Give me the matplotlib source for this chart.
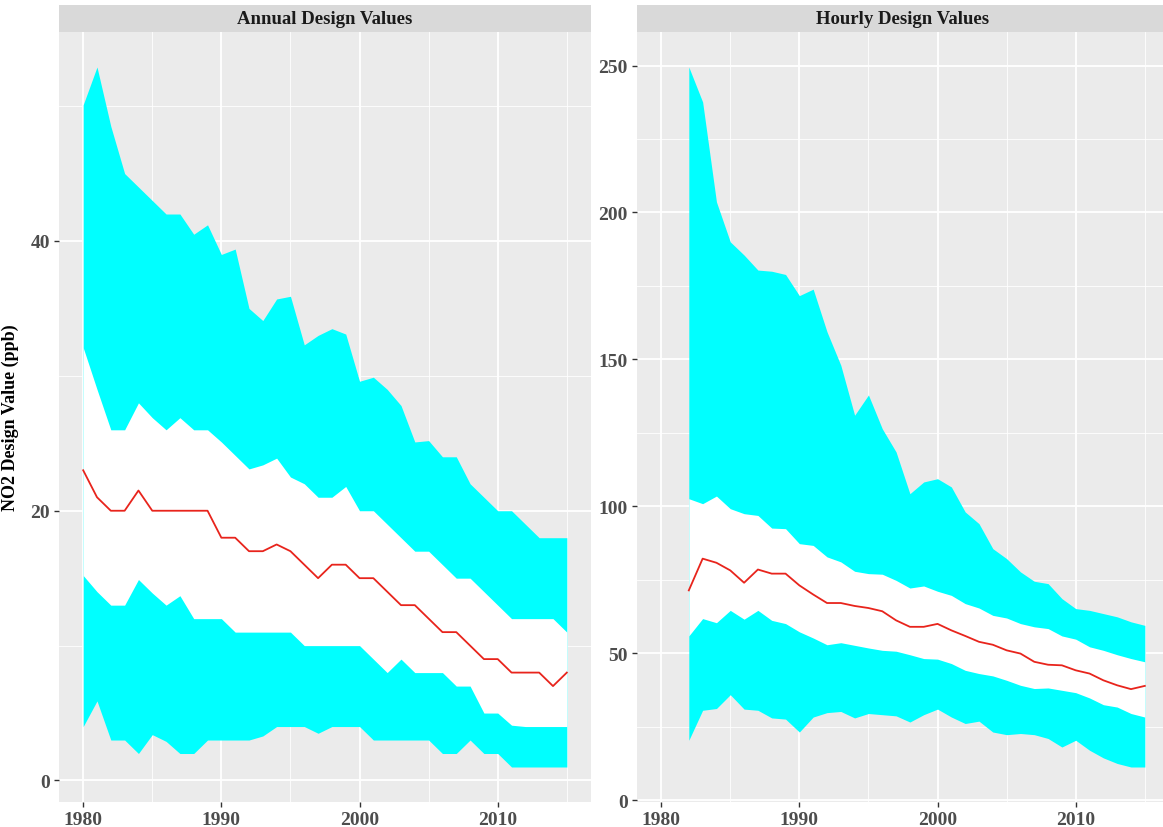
import matplotlib
matplotlib.use("Agg")
import matplotlib.pyplot as plt
import numpy as np

# NO2 design value distributions (10th, 25th, 50th, 75th, 90th percentiles)
annual_years = list(range(1980, 2016))
annual_p10 = [4.0, 5.9, 3.0, 3.0, 2.0, 3.4, 2.9, 2.0, 2.0, 3.0,
              3.0, 3.0, 3.0, 3.3, 4.0, 4.0, 4.0, 3.5, 4.0, 4.0,
              4.0, 3.0, 3.0, 3.0, 3.0, 3.0, 2.0, 2.0, 3.0, 2.0,
              2.0, 1.0, 1.0, 1.0, 1.0, 1.0]
annual_p25 = [15.2, 14.0, 13.0, 13.0, 14.9, 13.9, 13.0, 13.7, 12.0, 12.0,
              12.0, 11.0, 11.0, 11.0, 11.0, 11.0, 10.0, 10.0, 10.0, 10.0,
              10.0, 9.0, 8.0, 9.0, 8.0, 8.0, 8.0, 7.0, 7.0, 5.0,
              5.0, 4.1, 4.0, 4.0, 4.0, 4.0]
annual_p50 = [23.0, 21.0, 20.0, 20.0, 21.5, 20.0, 20.0, 20.0, 20.0, 20.0,
              18.0, 18.0, 17.0, 17.0, 17.5, 17.0, 16.0, 15.0, 16.0, 16.0,
              15.0, 15.0, 14.0, 13.0, 13.0, 12.0, 11.0, 11.0, 10.0, 9.0,
              9.0, 8.0, 8.0, 8.0, 7.0, 8.0]
annual_p75 = [32.1, 29.0, 26.0, 26.0, 28.0, 26.9, 26.0, 26.9, 26.0, 26.0,
              25.1, 24.1, 23.1, 23.4, 23.9, 22.5, 22.0, 21.0, 21.0, 21.8,
              20.0, 20.0, 19.0, 18.0, 17.0, 17.0, 16.0, 15.0, 15.0, 14.0,
              13.0, 12.0, 12.0, 12.0, 12.0, 11.0]
annual_p90 = [50.1, 52.9, 48.5, 45.0, 44.0, 43.0, 42.0, 42.0, 40.5, 41.2,
              39.0, 39.4, 35.0, 34.1, 35.7, 35.9, 32.3, 33.0, 33.5, 33.1,
              29.6, 29.9, 29.0, 27.8, 25.1, 25.2, 24.0, 24.0, 22.0, 21.0,
              20.0, 20.0, 19.0, 18.0, 18.0, 18.0]

hourly_years = list(range(1982, 2016))
hourly_p10 = [20.4, 30.6, 31.2, 35.9, 31.0, 30.6, 28.0, 27.6, 23.2, 28.3,
              29.8, 30.2, 28.0, 29.5, 29.1, 28.7, 26.6, 29.1, 31.0, 28.3,
              26.1, 26.9, 23.2, 22.3, 22.7, 22.3, 21.0, 18.1, 20.4, 17.0,
              14.4, 12.5, 11.3, 11.3]
hourly_p25 = [55.9, 61.8, 60.4, 64.6, 61.6, 64.6, 61.2, 60.1, 57.3, 55.2,
              52.9, 53.6, 52.7, 51.8, 51.0, 50.7, 49.5, 48.2, 48.0, 46.5,
              44.2, 43.1, 42.3, 40.8, 39.1, 38.0, 38.2, 37.4, 36.6, 34.8,
              32.5, 31.7, 29.5, 28.3]
hourly_p50 = [71.4, 82.2, 80.8, 78.2, 74.0, 78.5, 77.1, 77.1, 73.1, 70.0,
              67.1, 67.1, 66.1, 65.4, 64.3, 61.2, 59.0, 59.0, 60.0, 57.8,
              55.9, 53.9, 52.9, 51.0, 49.9, 47.1, 46.1, 45.9, 44.2, 43.1,
              40.8, 39.1, 37.8, 38.9]
hourly_p75 = [102.6, 100.9, 103.5, 99.2, 97.5, 96.9, 92.6, 92.4, 87.3, 86.7,
              82.8, 81.1, 77.9, 77.1, 76.9, 74.8, 72.2, 72.9, 71.1, 69.7,
              66.9, 65.4, 62.9, 62.0, 60.1, 59.0, 58.4, 55.9, 54.8, 52.2,
              51.0, 49.5, 48.2, 47.1]
hourly_p90 = [249.5, 237.6, 203.6, 190.0, 185.5, 180.4, 180.0, 178.9, 171.7, 173.9,
              159.4, 148.0, 131.0, 137.9, 126.4, 118.5, 104.3, 108.3, 109.4, 106.6,
              98.1, 94.1, 85.6, 82.2, 77.7, 74.5, 73.7, 68.6, 65.2, 64.6,
              63.5, 62.4, 60.7, 59.5]

panel_titles = ["Annual Design Values", "Hourly Design Values"]
ylabel = "NO2 Design Value (ppb)"

plt.rcParams['font.family'] = ['Liberation Serif', 'DejaVu Serif']
plt.rcParams['font.weight'] = 'bold'

W, H = 1163, 828
fig = plt.figure(figsize=(W / 100, H / 100), dpi=100)

panel_bg = "#EBEBEB"
strip_bg = "#D9D9D9"
tick_col = "#4D4D4D"


def px_rect(x0, y_top, w, h):
    return [x0 / W, (H - y_top - h) / H, w / W, h / H]


panels = [
    (59, annual_years, annual_p10, annual_p25, annual_p50, annual_p75, annual_p90,
     [0, 20, 40], [10, 30, 50]),
    (637, hourly_years, hourly_p10, hourly_p25, hourly_p50, hourly_p75, hourly_p90,
     [0, 50, 100, 150, 200, 250], [25, 75, 125, 175, 225]),
]

xmin, xmax = 1980, 2015
xpad = 0.05 * (xmax - xmin)

for i, (x0, yrs, p10, p25, p50, p75, p90, yt, ymt) in enumerate(panels):
    ax = fig.add_axes(px_rect(x0, 33, 532, 770))
    ax.set_facecolor(panel_bg)
    ax.fill_between(yrs, p10, p90, color="#00FFFF", lw=0, zorder=2)
    ax.fill_between(yrs, p25, p75, color="white", lw=0, zorder=3)
    ax.plot(yrs, p50, color="#E8241C", lw=1.3, zorder=4)

    # ggplot-like 5% expansion of the data range
    lo, hi = min(p10), max(p90)
    ax.set_ylim(lo - 0.05 * (hi - lo), hi + 0.05 * (hi - lo))
    ax.set_xlim(xmin - xpad, xmax + xpad)

    ax.set_xticks([1980, 1990, 2000, 2010])
    ax.set_xticks([1985, 1995, 2005, 2015], minor=True)
    ax.set_yticks(yt)
    ax.set_yticks(ymt, minor=True)
    ax.grid(which="major", color="white", lw=1.3, zorder=0)
    ax.grid(which="minor", color="white", lw=0.6, zorder=0)
    ax.set_axisbelow(True)
    for s in ax.spines.values():
        s.set_visible(False)
    ax.tick_params(which="major", length=3.5, width=1, color="#333333",
                   labelsize=14, labelcolor=tick_col, pad=3)
    ax.tick_params(which="minor", length=0)

    # facet strip
    sax = fig.add_axes(px_rect(x0, 6, 532, 27))
    sax.set_facecolor(strip_bg)
    sax.set_xticks([])
    sax.set_yticks([])
    for s in sax.spines.values():
        s.set_visible(False)
    sax.text(0.5, 0.5, panel_titles[i], transform=sax.transAxes,
             ha="center", va="center", fontsize=13.5, fontweight="bold",
             color="#1A1A1A")

    if i == 0:
        ax.set_ylabel(ylabel, fontsize=13, fontweight="bold", labelpad=8)

fig.savefig("out.png", dpi=100)
